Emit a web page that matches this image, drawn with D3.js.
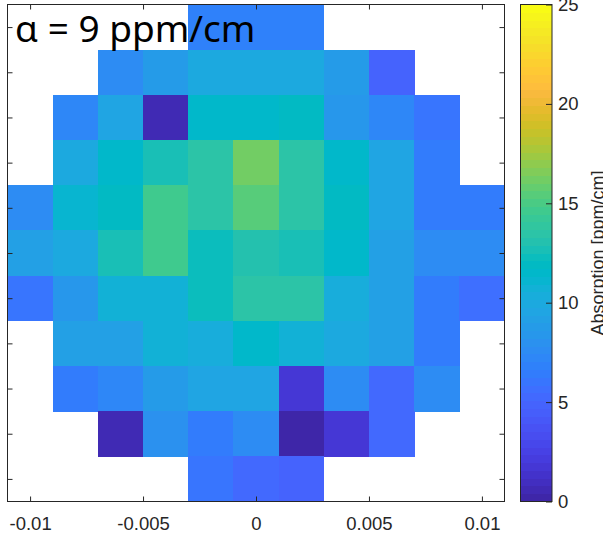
<!DOCTYPE html>
<html lang="en">
<head>
<meta charset="UTF-8">
<title>Absorption map</title>
<script src="https://d3js.org/d3.v7.min.js"></script>
<style>
  body { margin: 0; background: #fff; overflow: hidden; }
  svg { display: block; }
  .tick text, .lbl { font-family: "Liberation Sans", Arial, sans-serif; fill: #262626; }
</style>
</head>
<body>
<script>
// cell centres (m), top row first
const xPos = [-0.01, -0.008, -0.006, -0.004, -0.002, 0, 0.002, 0.004, 0.006, 0.008, 0.01];
const yPos = [0.01, 0.008, 0.006, 0.004, 0.002, 0, -0.002, -0.004, -0.006, -0.008, -0.01];

// absorption in ppm/cm, null = no measurement
const absorption = [
  [null, null, null, null, 6.8, 6.7, 6.9, null, null, null, null],
  [null, null, 7.5, 8.8, 10.0, 10.0, 9.9, 8.8, 4.8, null, null],
  [null, 7.4, 9.6, 0.4, 11.6, 11.6, 11.9, 8.5, 7.4, 6.2, null],
  [null, 9.8, 11.4, 12.7, 13.3, 16.1, 13.6, 11.6, 9.7, 6.3, null],
  [7.6, 11.3, 11.9, 14.7, 13.5, 15.4, 13.4, 11.9, 9.4, 6.5, 6.5],
  [9.3, 9.9, 12.8, 14.7, 12.3, 13.0, 12.6, 11.6, 9.3, 7.7, 7.7],
  [6.0, 8.5, 10.6, 10.6, 12.2, 13.5, 13.4, 10.3, 9.3, 6.5, 5.6],
  [null, 9.3, 9.1, 10.7, 10.2, 11.6, 10.9, 9.8, 9.0, 6.5, null],
  [null, 6.5, 7.3, 8.7, 9.7, 9.7, 1.6, 7.6, 5.4, 7.7, null],
  [null, null, 0.4, 8.0, 6.5, 7.7, 0.1, 1.9, 5.4, null, null],
  [null, null, null, null, 6.0, 5.4, 5.0, null, null, null, null]
];

const xTicks = [-0.01, -0.005, 0, 0.005, 0.01];
const xTickLabels = ["-0.01", "-0.005", "0", "0.005", "0.01"];
const cbTicks = [0, 5, 10, 15, 20, 25];
const cbRange = [0, 25];
const title = "α = 9 ppm/cm";
const cbLabel = "Absorption [ppm/cm]";

// MATLAB parula(64)
const parula = [
  [0.2422,0.1504,0.6603],[0.2504,0.1650,0.7076],[0.2578,0.1818,0.7511],[0.2647,0.1978,0.7952],
  [0.2706,0.2147,0.8364],[0.2751,0.2342,0.8710],[0.2783,0.2559,0.8991],[0.2803,0.2782,0.9221],
  [0.2813,0.3006,0.9414],[0.2810,0.3228,0.9579],[0.2795,0.3447,0.9717],[0.2760,0.3667,0.9829],
  [0.2699,0.3892,0.9906],[0.2602,0.4123,0.9952],[0.2440,0.4358,0.9988],[0.2206,0.4603,0.9973],
  [0.1963,0.4847,0.9892],[0.1834,0.5074,0.9798],[0.1786,0.5289,0.9682],[0.1764,0.5499,0.9520],
  [0.1687,0.5703,0.9359],[0.1540,0.5902,0.9218],[0.1460,0.6091,0.9079],[0.1380,0.6276,0.8973],
  [0.1248,0.6459,0.8883],[0.1113,0.6635,0.8763],[0.0952,0.6798,0.8598],[0.0689,0.6948,0.8394],
  [0.0297,0.7082,0.8163],[0.0036,0.7203,0.7917],[0.0067,0.7312,0.7660],[0.0433,0.7411,0.7394],
  [0.0964,0.7500,0.7120],[0.1408,0.7584,0.6842],[0.1717,0.7670,0.6554],[0.1938,0.7758,0.6251],
  [0.2161,0.7843,0.5923],[0.2470,0.7918,0.5567],[0.2906,0.7973,0.5188],[0.3406,0.8008,0.4789],
  [0.3909,0.8029,0.4354],[0.4456,0.8024,0.3909],[0.5044,0.7993,0.3480],[0.5616,0.7942,0.3045],
  [0.6174,0.7876,0.2612],[0.6720,0.7793,0.2227],[0.7242,0.7698,0.1910],[0.7738,0.7598,0.1646],
  [0.8203,0.7498,0.1535],[0.8634,0.7406,0.1596],[0.9035,0.7330,0.1774],[0.9393,0.7288,0.2100],
  [0.9728,0.7298,0.2394],[0.9956,0.7434,0.2371],[0.9970,0.7659,0.2199],[0.9952,0.7893,0.2028],
  [0.9892,0.8136,0.1885],[0.9786,0.8386,0.1766],[0.9676,0.8639,0.1643],[0.9610,0.8890,0.1537],
  [0.9597,0.9135,0.1423],[0.9628,0.9373,0.1265],[0.9691,0.9606,0.1064],[0.9769,0.9839,0.0805]
].map(c => d3.rgb(c[0] * 255, c[1] * 255, c[2] * 255).formatHex());

const W = 603, H = 535;
const svg = d3.select("body").append("svg").attr("width", W).attr("height", H);

const x = d3.scaleLinear().domain([-0.011, 0.011]).range([7.5, 504.5]);
const y = d3.scaleLinear().domain([0.011, -0.011]).range([4.5, 501.5]);
const color = d3.scaleQuantize().domain(cbRange).range(parula);
const half = 0.001;

const cells = [];
absorption.forEach((row, i) => row.forEach((v, j) => {
  if (v !== null) cells.push({ x: xPos[j], y: yPos[i], v });
}));

svg.append("g")
  .attr("shape-rendering", "crispEdges")
  .selectAll("rect")
  .data(cells)
  .enter().append("rect")
  .attr("x", d => x(d.x - half))
  .attr("y", d => y(d.y + half))
  .attr("width", d => x(d.x + half) - x(d.x - half) + 0.5)
  .attr("height", d => y(d.y - half) - y(d.y + half) + 0.5)
  .attr("fill", d => color(d.v));

// axes, ticks pointing inward
const tickLen = -5;
const gx = svg.append("g").attr("transform", `translate(0,${y.range()[1]})`)
  .call(d3.axisBottom(x).tickValues(xTicks).tickFormat((d, i) => xTickLabels[i])
    .tickSizeInner(tickLen).tickSizeOuter(0).tickPadding(15));
gx.selectAll("text").attr("font-size", 18.5);

svg.append("g").attr("transform", `translate(0,${y.range()[0]})`)
  .call(d3.axisTop(x).tickValues(xTicks).tickFormat("").tickSizeInner(tickLen).tickSizeOuter(0));
svg.append("g").attr("transform", `translate(${x.range()[0]},0)`)
  .call(d3.axisLeft(y).tickValues(yPos).tickFormat("").tickSizeInner(tickLen).tickSizeOuter(0));
svg.append("g").attr("transform", `translate(${x.range()[1]},0)`)
  .call(d3.axisRight(y).tickValues(yPos).tickFormat("").tickSizeInner(tickLen).tickSizeOuter(0));

svg.selectAll(".domain").remove();
svg.selectAll(".tick line").attr("stroke", "#262626");
svg.selectAll("g").attr("font-family", null);

svg.append("rect")
  .attr("x", x.range()[0]).attr("y", y.range()[0])
  .attr("width", x.range()[1] - x.range()[0])
  .attr("height", y.range()[1] - y.range()[0])
  .attr("fill", "none").attr("stroke", "#262626").attr("stroke-width", 1);

// title inside the axes
svg.append("text")
  .attr("x", 15).attr("y", 41.5)
  .attr("font-family", "'Noto Sans', sans-serif")
  .attr("font-size", 37)
  .attr("fill", "#000")
  .text(title);

// colorbar
const cbX = 520.5, cbW = 31.5;
const cy = d3.scaleLinear().domain(cbRange).range([501.5, 4.5]);
const step = (cbRange[1] - cbRange[0]) / parula.length;

svg.append("g")
  .attr("shape-rendering", "crispEdges")
  .selectAll("rect")
  .data(parula)
  .enter().append("rect")
  .attr("x", cbX)
  .attr("y", (d, i) => cy(cbRange[0] + (i + 1) * step))
  .attr("width", cbW)
  .attr("height", (d, i) => cy(cbRange[0] + i * step) - cy(cbRange[0] + (i + 1) * step) + 0.5)
  .attr("fill", d => d);

const gc = svg.append("g").attr("transform", `translate(${cbX + cbW},0)`)
  .call(d3.axisRight(cy).tickValues(cbTicks).tickFormat(d3.format("d"))
    .tickSizeInner(-6).tickSizeOuter(0).tickPadding(6));
gc.select(".domain").remove();
gc.selectAll(".tick line").attr("stroke", "#262626");
gc.selectAll("text").attr("font-size", 18.5).attr("font-family", null);

svg.append("rect")
  .attr("x", cbX).attr("y", cy.range()[1])
  .attr("width", cbW).attr("height", cy.range()[0] - cy.range()[1])
  .attr("fill", "none").attr("stroke", "#262626").attr("stroke-width", 1);

svg.append("text")
  .attr("class", "lbl")
  .attr("transform", `translate(604,${(cy.range()[0] + cy.range()[1]) / 2}) rotate(-90)`)
  .attr("text-anchor", "middle")
  .attr("font-size", 18)
  .text(cbLabel);
</script>
</body>
</html>
